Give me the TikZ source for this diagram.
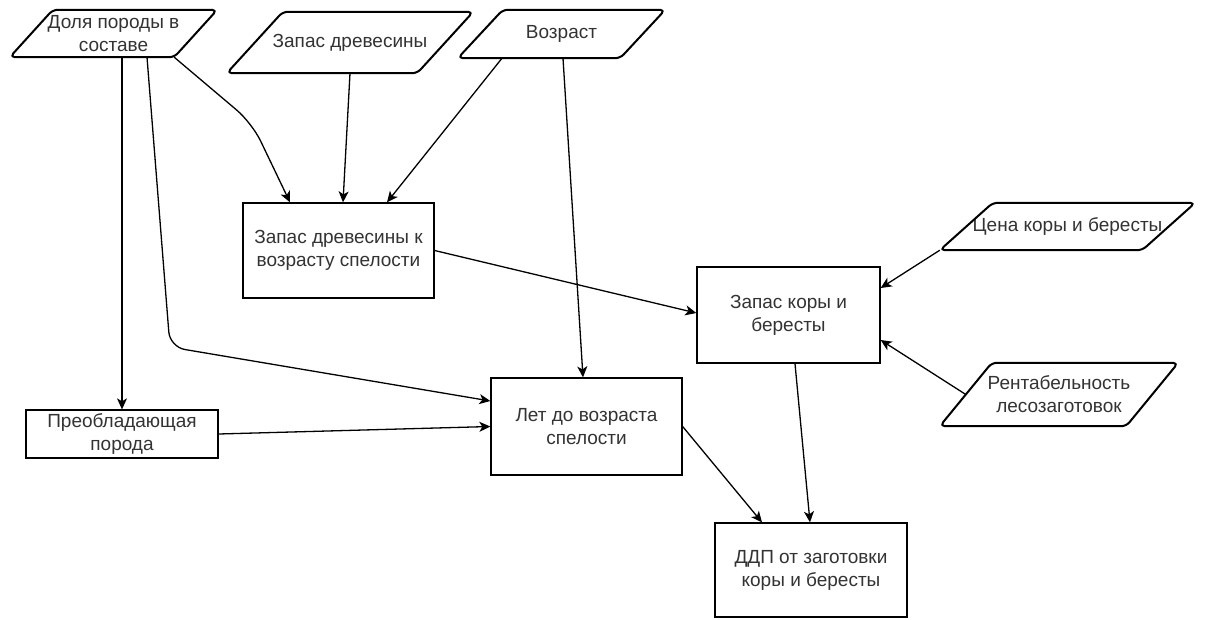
\documentclass[tikz,border=0pt]{standalone}
\usepackage{fontspec}
\setmainfont{Liberation Sans}
\usetikzlibrary{arrows.meta,calc}
\definecolor{txt}{RGB}{51,51,51}
\begin{document}
\begin{tikzpicture}[x=1pt,y=-1pt,
  lbl/.style={align=center, text=txt, font=\fontsize{19}{23}\selectfont, inner sep=0pt},
  box/.style={lbl, draw, line width=1.3pt, rectangle},
  inbox/.style={lbl, rectangle},
  para/.style={draw, line width=2pt, rounded corners=5pt, line join=round},
  conn/.style={line width=1.3pt, -{Stealth[length=11pt,width=10pt,inset=3pt]}},
]
\useasboundingbox[fill=white] (0,0) rectangle (1232,619);

% input parallelograms
\node[inbox, minimum width=207pt, minimum height=47pt] (dp) at (113.5,33.5) {Доля породы в\\составе};
\draw[para] (dp.south west) -- ([xshift=43pt]dp.north west) -- (dp.north east) -- ([xshift=-43pt]dp.south east) -- cycle;

\node[inbox, minimum width=246pt, minimum height=61pt] (zd) at (350,42.5) {Запас древесины};
\draw[para] (zd.south west) -- ([xshift=56pt]zd.north west) -- (zd.north east) -- ([xshift=-56pt]zd.south east) -- cycle;

\node[inbox, minimum width=207pt, minimum height=48pt] (vz) at (561.5,34) {Возраст};
\draw[para] (vz.south west) -- ([xshift=45pt]vz.north west) -- (vz.north east) -- ([xshift=-45pt]vz.south east) -- cycle;

\node[inbox, minimum width=255pt, minimum height=47pt] (cena) at (1067.5,226.5) {Цена коры и бересты};
\draw[para] (cena.south west) -- ([xshift=53pt]cena.north west) -- (cena.north east) -- ([xshift=-53pt]cena.south east) -- cycle;

\node[inbox, minimum width=238pt, minimum height=63pt] (rent) at (1059,394.5) {Рентабельность\\лесозаготовок};
\draw[para] (rent.south west) -- ([xshift=52pt]rent.north west) -- (rent.north east) -- ([xshift=-52pt]rent.south east) -- cycle;

% process boxes
\node[box, minimum width=191pt, minimum height=95pt] (zdv) at (338.5,250.5) {Запас древесины к\\возрасту спелости};
\node[box, minimum width=183pt, minimum height=96pt] (zk) at (788.5,315) {Запас коры и\\бересты};
\node[box, minimum width=192pt, minimum height=48pt] (pp) at (122,434) {Преобладающая\\порода};
\node[box, minimum width=191pt, minimum height=97pt] (let) at (586.5,426.5) {Лет до возраста\\спелости};
\node[box, minimum width=192pt, minimum height=94pt] (ddp) at (811,570) {ДДП от заготовки\\коры и бересты};

% bend points
\coordinate (c1) at (170,347);
\coordinate (c2) at (252,123);

% connectors
\draw[conn] (dp.south -| pp.north) -- (pp.north);
\draw[conn, rounded corners=15pt] ([xshift=33.5pt]dp.south) -- (c1) -- ([yshift=25.5pt]let.west);
\draw[conn, rounded corners=20pt] ([xshift=-43pt]dp.south east) -- (c2) -- ([xshift=-48.5pt]zdv.north);
\draw[conn] (zd.south) -- ([xshift=4.5pt]zdv.north);
\draw[conn] ([xshift=-59.5pt]vz.south) -- ([xshift=48.5pt]zdv.north);
\draw[conn] ([xshift=1.5pt]vz.south) -- ([xshift=-3.5pt]let.north);
\draw[conn] (zdv.east) -- ([yshift=2pt]zk.west);
\draw[conn] (cena.south west) -- ([yshift=27pt]zk.east);
\draw[conn] ($(rent.south west)!0.5!([xshift=52pt]rent.north west)$) -- ([yshift=-25pt]zk.east);
\draw[conn] (pp.east) -- (let.west);
\draw[conn] (let.east) -- ([xshift=-49pt]ddp.north);
\draw[conn] ([xshift=6.5pt]zk.south) -- ([xshift=-1pt]ddp.north);
\end{tikzpicture}
\end{document}
